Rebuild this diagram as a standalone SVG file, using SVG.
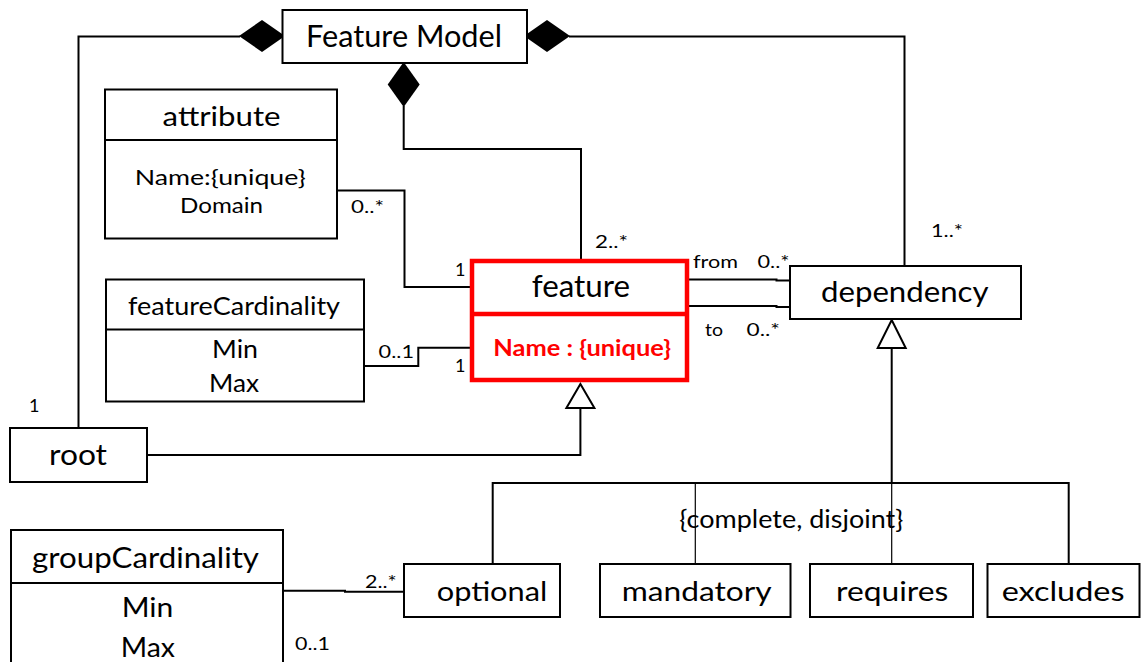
<svg xmlns="http://www.w3.org/2000/svg" width="1141" height="662" viewBox="0 0 1141 662">
<style>
text{font-family:Lato,"Liberation Sans",sans-serif;fill:#000}
.box{fill:#fff;stroke:#000;stroke-width:2}
.ln{fill:none;stroke:#000;stroke-width:2}
.thin{fill:none;stroke:#000;stroke-width:1.2}
.lbl{font-size:18px}
.red{fill:none;stroke:#ff0000;stroke-width:4.5}
</style>
<rect width="1141" height="662" fill="#fff"/>
<g id="connectors">
<path class="ln" d="M240,36.5 H78.5 V428"/>
<path class="ln" d="M569,36.5 H904.5 V266"/>
<path class="ln" d="M403.7,106 V149 H581 V259"/>
<path class="ln" d="M337,190.5 H404.5 V287 H470"/>
<path class="ln" d="M364,366 H418.3 V347.7 H470"/>
<path class="ln" d="M689,279.5 H776.5 V280.5 H790"/>
<path class="ln" d="M689,306 H776.5 V307 H790"/>
<path class="ln" d="M147,455 H580.4 V408"/>
<path class="ln" d="M891.7,348 V483"/>
<path class="ln" d="M492.7,564 V483 H1068.7 V564"/>
<path class="thin" d="M695.3,483 V564"/>
<path class="thin" d="M891.7,483 V564"/>
<path class="ln" d="M283,590.7 H345 V591.7 H404"/>
<polygon points="239,36 262,20 285,36 262,52" fill="#000"/>
<polygon points="524,36 547,20 570,36 547,52" fill="#000"/>
<polygon points="403.7,62 419.7,84.5 403.7,107 387.7,84.5" fill="#000"/>
<polygon points="580.4,384 594.4,408 566.4,408" fill="#fff" stroke="#000" stroke-width="2"/>
<polygon points="891.7,320 905.7,348 877.7,348" fill="#fff" stroke="#000" stroke-width="2"/>
<text class="lbl" x="351" y="213" textLength="33" lengthAdjust="spacingAndGlyphs">0..*</text>
<text class="lbl" x="455" y="276">1</text>
<text class="lbl" x="595" y="248" textLength="33" lengthAdjust="spacingAndGlyphs">2..*</text>
<text class="lbl" x="693" y="268" textLength="45" lengthAdjust="spacingAndGlyphs">from</text>
<text class="lbl" x="757.5" y="268" textLength="32" lengthAdjust="spacingAndGlyphs">0..*</text>
<text class="lbl" x="705" y="336" textLength="18" lengthAdjust="spacingAndGlyphs">to</text>
<text class="lbl" x="746.5" y="336" textLength="33.5" lengthAdjust="spacingAndGlyphs">0..*</text>
<text class="lbl" x="931" y="236.5" textLength="32" lengthAdjust="spacingAndGlyphs">1..*</text>
<text class="lbl" x="378.6" y="358" textLength="35.4" lengthAdjust="spacingAndGlyphs">0..1</text>
<text class="lbl" x="455" y="372">1</text>
<text class="lbl" x="29" y="411.5">1</text>
<text class="lbl" x="365" y="588" textLength="31.7" lengthAdjust="spacingAndGlyphs">2..*</text>
<text class="lbl" x="295" y="650" textLength="35" lengthAdjust="spacingAndGlyphs">0..1</text>
<text x="679.3" y="528" font-size="25" textLength="224" lengthAdjust="spacingAndGlyphs">{complete, disjoint}</text>
</g>
<g id="featureModel">
<rect class="box" x="282.5" y="10" width="244.5" height="53"/>
<text x="306" y="46.5" font-size="30" textLength="196" lengthAdjust="spacingAndGlyphs">Feature Model</text>
</g>
<g id="attribute">
<rect class="box" x="105" y="89.5" width="232" height="149"/>
<line class="ln" x1="105" y1="140" x2="337" y2="140"/>
<text x="162.6" y="126" font-size="27" textLength="118" lengthAdjust="spacingAndGlyphs">attribute</text>
<text x="134.7" y="185" font-size="22" textLength="171" lengthAdjust="spacingAndGlyphs">Name:{unique}</text>
<text x="180" y="213.3" font-size="22" textLength="83" lengthAdjust="spacingAndGlyphs">Domain</text>
</g>
<g id="featureCardinality">
<rect class="box" x="106" y="279.5" width="258" height="122"/>
<line class="ln" x1="106" y1="329.5" x2="364" y2="329.5"/>
<text x="128" y="315" font-size="25" textLength="212" lengthAdjust="spacingAndGlyphs">featureCardinality</text>
<text x="212" y="358.3" font-size="25" textLength="46" lengthAdjust="spacingAndGlyphs">Min</text>
<text x="209" y="391.7" font-size="25" textLength="50" lengthAdjust="spacingAndGlyphs">Max</text>
</g>
<g id="feature">
<rect x="472" y="261" width="215" height="119" fill="#fff"/>
<rect class="red" x="472" y="261" width="215" height="119"/>
<line class="red" x1="472" y1="314" x2="687" y2="314"/>
<text x="531.7" y="297" font-size="31" textLength="98.3" lengthAdjust="spacingAndGlyphs">feature</text>
<text x="493.3" y="356" font-size="22" font-weight="bold" style="fill:#ff0000" textLength="177.7" lengthAdjust="spacingAndGlyphs">Name : {unique}</text>
</g>
<g id="dependency">
<rect class="box" x="790" y="266" width="231" height="53"/>
<text x="821" y="301.7" font-size="28" textLength="167.5" lengthAdjust="spacingAndGlyphs">dependency</text>
</g>
<g id="root">
<rect class="box" x="10" y="428" width="137" height="54"/>
<text x="49" y="465" font-size="28" textLength="58" lengthAdjust="spacingAndGlyphs">root</text>
</g>
<g id="groupCardinality">
<rect class="box" x="11" y="530" width="272" height="145"/>
<line class="ln" x1="11" y1="583" x2="283" y2="583"/>
<text x="32" y="568" font-size="29" textLength="227" lengthAdjust="spacingAndGlyphs">groupCardinality</text>
<text x="121.7" y="616.7" font-size="26" textLength="51.6" lengthAdjust="spacingAndGlyphs">Min</text>
<text x="120.7" y="656.7" font-size="26" textLength="54.3" lengthAdjust="spacingAndGlyphs">Max</text>
</g>
<g id="optional">
<rect class="box" x="404" y="564" width="156" height="53"/>
<text x="436.7" y="600.5" font-size="27" textLength="110.6" lengthAdjust="spacingAndGlyphs">optional</text>
</g>
<g id="mandatory">
<rect class="box" x="600" y="564" width="190.5" height="53"/>
<text x="621.7" y="600.5" font-size="27" textLength="150" lengthAdjust="spacingAndGlyphs">mandatory</text>
</g>
<g id="requires">
<rect class="box" x="810" y="564" width="163" height="53"/>
<text x="836" y="600.5" font-size="27" textLength="112.3" lengthAdjust="spacingAndGlyphs">requires</text>
</g>
<g id="excludes">
<rect class="box" x="987.5" y="564" width="152" height="53"/>
<text x="1001.7" y="600.5" font-size="27" textLength="122.8" lengthAdjust="spacingAndGlyphs">excludes</text>
</g>
</svg>
